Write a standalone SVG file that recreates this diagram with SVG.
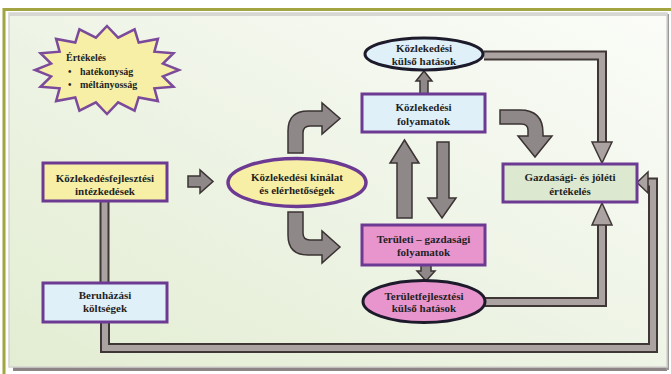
<svg xmlns="http://www.w3.org/2000/svg" width="671" height="374" viewBox="0 0 671 374">
  <defs>
    <linearGradient id="panelBg" x1="0" y1="1" x2="1" y2="0">
      <stop offset="0" stop-color="#e3edd2"/>
      <stop offset="0.5" stop-color="#eef4e6"/>
      <stop offset="1" stop-color="#fbfcf8"/>
    </linearGradient>
  </defs>
  <style>
    .lbl{font-family:"Liberation Serif","Times New Roman",serif;font-weight:bold;font-size:11px;fill:#1f1f1f;text-anchor:middle}
    .lbl-l{font-family:"Liberation Serif","Times New Roman",serif;font-weight:bold;font-size:10px;fill:#1f1f1f}
    .box{stroke:#6c3a92;stroke-width:3}
    .ell-p{stroke:#6c3a92;stroke-width:3.5}
    .ell-k{stroke:#1d1b2b;stroke-width:3}
    .yellow{fill:#f7efa6}
    .blue{fill:#dff0f9}
    .pink{fill:#e895cd}
    .green{fill:#dde8d1}
    .barrow{fill:#8f8888;stroke:#3b3333;stroke-width:1.5;stroke-linejoin:miter}
    .pipe-o{fill:none;stroke:#3f3636;stroke-width:10;stroke-linejoin:miter}
    .pipe-i{fill:none;stroke:#aaa3a2;stroke-width:6;stroke-linejoin:miter}
    .head{fill:#aaa3a2;stroke:#3f3636;stroke-width:1.5}
  </style>

  <!-- page frame -->
  <g id="frame">
    <rect x="0" y="0" width="671" height="374" fill="#ffffff"/>
    <rect x="13" y="366" width="654" height="5" fill="#8d8585"/>
    <rect x="666" y="14" width="3" height="356" fill="#9c9696"/>
    <rect x="9" y="13" width="658" height="354" fill="url(#panelBg)" stroke="#d4d4d0" stroke-width="1.5"/>
    <rect x="9" y="13" width="658" height="3" fill="#d6d6d2"/>
    <rect x="3" y="8" width="668" height="3" fill="#a3a442"/>
    <rect x="2.5" y="8" width="3" height="366" fill="#a3a442"/>
  </g>

  <!-- connectors -->
  <g id="connectors">
    <!-- pipes -->
    <path class="pipe-o" d="M484,55.5 H602 V143"/>
    <path class="pipe-i" d="M484,55.5 H602 V144"/>
    <polygon class="head" points="592,142 612,142 602,163"/>

    <path class="pipe-o" d="M484,302 H602 V224"/>
    <path class="pipe-i" d="M484,302 H602 V223"/>
    <polygon class="head" points="592,225 612,225 602,203"/>

    <path class="pipe-o" d="M105,322 V348 H653 V182.5 H647"/>
    <path class="pipe-i" d="M105,322 V348 H653 V182.5 H646"/>
    <polygon class="head" points="648,172 648,193 637,182.5"/>

    <path class="pipe-o" d="M104.5,200 V284"/>
    <path class="pipe-i" d="M104.5,200 V284"/>

    <!-- block arrows -->
    <path class="barrow" d="M188,176 H200 V170 L213,181.5 L200,193 V187 H188 Z"/>
    <path class="barrow" d="M288,153 L288,131 Q288,111 308,111 L322,111 L322,103 L340,118.5 L322,134 L322,126 L310,126 Q303,126 303,133 L303,153 Z"/>
    <path class="barrow" d="M288,212 L288,235 Q288,255 308,255 L322,255 L322,263 L340,247 L322,231 L322,240 L310,240 Q303,240 303,233 L303,212 Z"/>
    <path class="barrow" d="M500,110 L520,110 Q543,110 543,133 L543,136 L552,136 L535,157 L518,136 L528,136 L528,130 Q528,124 521,124 L500,124 Z"/>
    <path class="barrow" d="M397,218 V163 H390 L404.5,140 L419,163 H412 V218 Z"/>
    <path class="barrow" d="M437,142 H449 V198 H456 L442,218 L428,198 H437 Z"/>
    <path class="barrow" d="M420,95 V81 H416 L424,71 L432,81 H428 V95 Z"/>
    <path class="barrow" d="M421,264 V271 H417 L426,281 L435,271 H431 V264 Z"/>
  </g>

  <!-- evaluation star -->
  <g id="ertekeles">
    <polygon class="yellow" stroke="#7b4a9a" stroke-width="2.5" stroke-linejoin="miter"
      points="107,26 118.1,37.6 134.6,29.3 138.7,42.6 157.9,38.9 154.4,51.7 173.5,53.2 162.9,63.6 179,70 162.9,76.4 173.5,86.8 154.4,88.3 157.9,101.1 138.7,97.4 134.6,110.7 118.1,102.4 107,114 95.9,102.4 79.4,110.7 75.3,97.4 56.1,101.1 59.6,88.3 40.5,86.8 51.1,76.4 35,70 51.1,63.6 40.5,53.2 59.6,51.7 56.1,38.9 75.3,42.6 79.4,29.3 95.9,37.6"/>
    <text class="lbl-l" x="66" y="60.5">Értékelés</text>
    <text class="lbl-l" x="68" y="74.5">•</text>
    <text class="lbl-l" x="80" y="74.5">hatékonyság</text>
    <text class="lbl-l" x="68" y="87.5">•</text>
    <text class="lbl-l" x="80" y="87.5">méltányosság</text>
  </g>

  <g id="kozlekedesfejlesztesi">
    <rect class="box yellow" x="43" y="163" width="124" height="38"/>
    <text class="lbl" x="105" y="181.5">Közlekedésfejlesztési</text>
    <text class="lbl" x="105" y="195">intézkedések</text>
  </g>

  <g id="beruhazasi">
    <rect class="box blue" x="43" y="283" width="124" height="39"/>
    <text class="lbl" x="105" y="298.5">Beruházási</text>
    <text class="lbl" x="105" y="312">költségek</text>
  </g>

  <g id="kinalat">
    <ellipse class="ell-p yellow" cx="297" cy="182.5" rx="69" ry="24"/>
    <text class="lbl" x="297" y="180.5">Közlekedési kínálat</text>
    <text class="lbl" x="297" y="193.5">és elérhetőségek</text>
  </g>

  <g id="kozl-kulso">
    <ellipse class="ell-k blue" cx="424" cy="54" rx="59" ry="16"/>
    <text class="lbl" x="424" y="52">Közlekedési</text>
    <text class="lbl" x="424" y="65">külső hatások</text>
  </g>

  <g id="kozl-folyamatok">
    <rect class="box blue" x="362" y="94" width="123" height="38"/>
    <text class="lbl" x="423.5" y="110.5">Közlekedési</text>
    <text class="lbl" x="423.5" y="124.5">folyamatok</text>
  </g>

  <g id="teruleti-folyamatok">
    <rect class="box pink" x="362" y="225" width="123" height="40"/>
    <text class="lbl" x="423.5" y="243">Területi – gazdasági</text>
    <text class="lbl" x="423.5" y="256">folyamatok</text>
  </g>

  <g id="terulet-kulso">
    <ellipse class="ell-k pink" cx="424" cy="301.5" rx="61" ry="21"/>
    <text class="lbl" x="424" y="299.5">Területfejlesztési</text>
    <text class="lbl" x="424" y="312">külső hatások</text>
  </g>

  <g id="gazdasagi">
    <rect class="box green" x="503" y="164" width="134" height="38"/>
    <text class="lbl" x="570" y="180.5">Gazdasági- és jóléti</text>
    <text class="lbl" x="570" y="195">értékelés</text>
  </g>
</svg>
